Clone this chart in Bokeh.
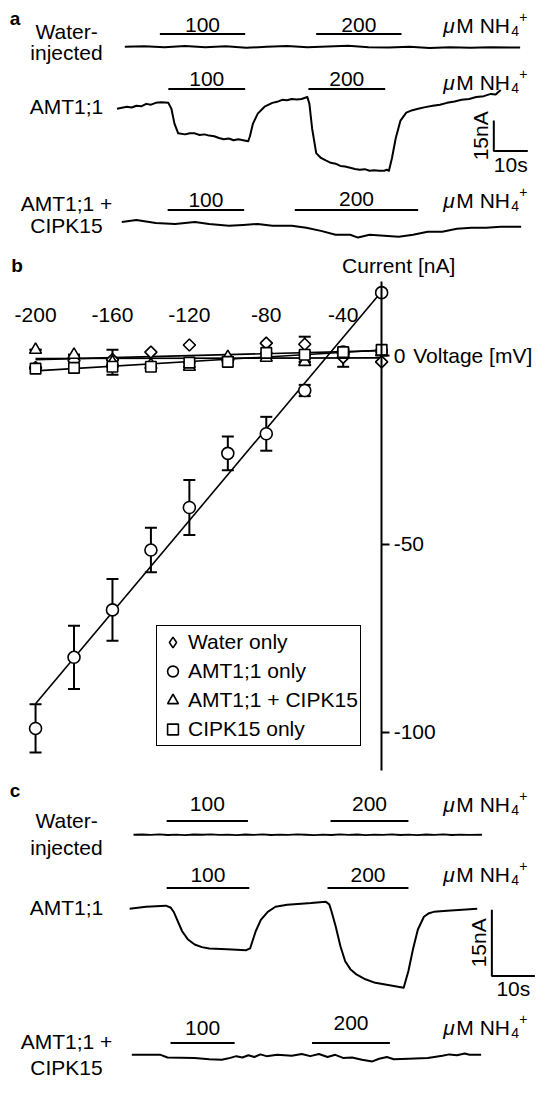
import numpy as np
from bokeh.plotting import figure
from bokeh.models import (Range1d, Label, LinearAxis, FixedTicker, Whisker,
                          TeeHead, ColumnDataSource, Legend, LegendItem)
from bokeh.layouts import column
from bokeh.embed import file_html
from bokeh.resources import INLINE

FONT = "Liberation Sans"
FS = "21px"
SX = 537 / 553
SY = 1079 / 1095

# ------------------------------------------------------------------ data
conc_labels = ["100", "200"]
unit_parts = ["\u03bc", "M NH", "4", "+"]
scale_bar_nA = 15
scale_bar_s = 10
scale_bar_labels = ["15nA", "10s"]

# panel a : NH4+ application windows (s)
a_water_windows = [(12.6, 37.7), (58.6, 83.7)]
a_amt_windows = [(15.1, 37.7), (56.3, 78.9)]
a_cipk_windows = [(14.9, 37.4), (52.3, 88.6)]

# panel a : current traces (time s, current nA relative to start)
a_water = [(2.3, 0), (8, 0.2), (14, -0.3), (20, 0.4), (26, -0.2), (32, 0.3),
           (38, -0.5), (44, 0), (50, 0.4), (56, -0.3), (62, 0.1), (68, 0.5),
           (74, -0.3), (80, -0.4), (86, 0), (92, -0.6), (98, -0.2),
           (104, -0.5), (110, -0.3), (118.6, -0.4)]
a_amt = [(0, 0), (2.9, 1.0), (4.3, 0.6), (5.7, 1.5), (7.1, 1.2), (8.6, 2.4),
         (10.0, 2.0), (11.4, 2.9), (13.0, 3.2), (15.1, 2.9), (16.0, 0),
         (16.9, -7.3), (18.0, -12.1), (20.0, -12.6), (21.4, -12.0),
         (22.9, -12.1), (24.3, -12.9), (25.7, -12.6), (27.1, -13.2),
         (28.6, -13.5), (30.0, -14.4), (31.4, -15.0), (32.9, -14.6),
         (34.3, -15.5), (35.7, -15.0), (37.1, -15.5), (38.6, -16.0),
         (39.1, -13.5), (40.0, -7.3), (41.4, -2.4), (43.4, 1.0), (45.7, 2.9),
         (47.1, 3.4), (48.6, 4.4), (50.0, 4.2), (51.4, 4.8), (52.9, 4.5),
         (54.3, 4.8), (56.0, 5.8), (56.6, 2.4), (57.4, -9.7), (58.6, -21.8),
         (60.0, -24.2), (61.4, -25.4), (62.9, -26.6), (64.3, -27.0),
         (65.7, -28.1), (67.1, -28.4), (68.6, -29.0), (70.0, -29.6),
         (71.4, -30.0), (72.9, -29.7), (74.3, -30.5), (75.7, -30.2),
         (77.1, -30.5), (78.6, -30.5), (79.4, -30.0), (80.0, -30.5),
         (80.9, -24.2), (82.0, -14.5), (83.4, -5.8), (85.1, -1.9),
         (86.9, -0.7), (88.6, 0), (90.7, 0.8), (92.9, 1.5), (95.0, 2.0),
         (97.1, 2.9), (99.3, 3.6), (101.4, 4.4), (103.6, 4.8), (105.7, 5.8),
         (107.9, 6.2), (110.0, 7.3), (111.4, 7.0), (112.9, 9.2)]
a_cipk = [(1.4, 0), (5.7, 1.0), (11.4, -0.5), (17.1, -1.0), (22.9, 0),
          (27.1, -1.0), (32.9, -1.9), (37.1, -1.5), (41.4, -1.0),
          (45.7, -1.9), (51.4, -1.9), (55.7, -2.9), (60.0, -4.4),
          (64.3, -6.3), (68.6, -6.3), (70.9, -7.7), (74.3, -6.3),
          (78.6, -6.8), (82.9, -7.3), (87.1, -6.3), (91.4, -4.8),
          (95.7, -4.8), (100.0, -3.4), (104.3, -2.9), (108.6, -2.9),
          (112.9, -2.4), (118.9, -2.4)]

# panel b : I-V data (mV, nA)
voltage = [-200, -180, -160, -140, -120, -100, -80, -60, -40, -20]
water_only = [-3.1, -1.3, -1.0, 1.0, 2.9, -1.0, 3.4, 3.1, -0.4, -1.6]
water_only_err = [0, 0, 0, 0, 0, 0, 0, 2.0, 2.5, 0]
amt_only = [-99.0, -80.1, -67.5, -51.6, -40.3, -25.9, -20.7, -9.2, 1.0, 16.8]
amt_only_err = [6.4, 8.4, 8.2, 5.9, 7.3, 4.5, 4.5, 1.5, 0.8, 0.5]
amt_cipk = [1.6, 0.3, -1.7, -2.4, -2.9, -0.3, -0.5, -1.6, 0.3, 1.0]
amt_cipk_err = [0, 0, 3.3, 0, 0, 0, 0, 0, 0, 0]
cipk_only = [-3.4, -3.2, -2.9, -2.9, -1.8, -1.6, 0.8, 0.3, 1.0, 1.6]
cipk_only_err = [0, 0, 0, 0, 0, 0, 0, 0, 0, 0]
series_names = ["Water only", "AMT1;1 only", "AMT1;1 + CIPK15", "CIPK15 only"]
v_ticks = [-200, -160, -120, -80, -40]
i_ticks = [-100, -50, 0]

# panel c : NH4+ application windows (s)
c_water_windows = [(8.6, 27.5), (46.7, 64.8)]
c_amt_windows = [(8.6, 27.8), (46.0, 64.8)]
c_cipk_windows = [(9.5, 24.4), (42.4, 60.5)]

# panel c : current traces (time s, current nA relative to start)
c_water = [(0.9, 0), (2.9, 0.06), (4.9, -0.04), (6.9, 0.08), (8.9, -0.06),
           (10.9, 0.04), (12.9, -0.08), (14.9, 0.06), (16.9, 0), (18.9, 0.08),
           (20.9, -0.04), (22.9, 0.04), (24.9, -0.08), (26.9, 0.06),
           (28.9, -0.02), (30.9, 0.08), (32.9, -0.06), (34.9, 0.04),
           (36.9, -0.04), (38.9, 0.08), (40.9, 0), (42.9, -0.08), (44.9, 0.04),
           (46.9, -0.06), (48.9, 0.08), (50.9, -0.04), (52.9, 0.06),
           (54.9, -0.08), (56.9, 0.04), (58.9, -0.04), (60.9, 0.08),
           (62.9, -0.06), (64.9, 0.02), (66.9, -0.08), (68.9, 0.06),
           (70.9, -0.04), (72.9, 0.08), (74.9, -0.06), (76.9, 0.04),
           (78.9, -0.04), (81.9, 0)]
c_amt = [(0, 0), (3.8, 0.45), (8.4, 0.7), (9.5, 0.3), (10.3, -0.8),
         (11.0, -2.4), (12.2, -5.1), (13.5, -6.9), (15.1, -8.1),
         (16.8, -8.7), (18.5, -9.0), (22.6, -9.2), (27.1, -9.4),
         (28.0, -9.0), (28.6, -7.2), (29.3, -5.1), (30.5, -2.5),
         (32.1, -0.7), (33.9, 0.45), (36.6, 0.9), (39.1, 1.1), (42.2, 1.3),
         (45.6, 1.6), (46.4, 1.0), (46.9, -0.5), (47.9, -4.0), (49.0, -8.5),
         (50.1, -11.9), (51.3, -13.7), (52.6, -14.8), (54.8, -16.0),
         (57.1, -16.8), (61.4, -17.5), (63.7, -17.9), (64.8, -14.1),
         (65.9, -9.0), (67.0, -4.7), (68.4, -1.8), (69.6, -1.0),
         (70.7, -0.7), (73.8, -0.45), (80.8, 0)]
c_cipk = [(0.5, 0), (7.2, 0), (8.8, -0.6), (15.1, -0.7), (18.5, -1.0),
          (21.4, -1.1), (23.0, -0.8), (24.8, -0.3), (26.2, -0.6),
          (27.6, -0.1), (29.0, -0.5), (30.4, 0.1), (31.8, -0.3), (34.3, 0),
          (37.7, -0.2), (40.0, 0.2), (42.0, -0.3), (44.0, 0.2), (46.0, -0.5),
          (47.8, 0), (49.6, -0.7), (51.7, -0.6), (54.0, -1.1), (56.4, -1.5),
          (58.0, -0.9), (59.8, -0.5), (61.4, -1.0), (64.8, -0.9),
          (69.3, -0.7), (72.7, -0.2), (74.3, 0.1), (76.1, -0.1), (77.9, 0.3),
          (79.0, 0), (81.7, 0)]


# ------------------------------------------------------------------ helpers
def new_fig(h, xr, yr):
    p = figure(width=537, height=h, x_range=Range1d(*xr), y_range=Range1d(*yr),
               x_axis_type=None, y_axis_type=None, toolbar_location=None,
               output_backend="svg", min_border=0, outline_line_color=None,
               background_fill_color="white", border_fill_color="white")
    p.grid.visible = False
    return p


def lab(p, x, y, text, size=FS, align="center", baseline="middle",
        style="normal", angle=0, xo=0, yo=0):
    p.add_layout(Label(x=x, y=y, text=text, text_font=FONT,
                       text_font_size=size, text_align=align,
                       text_baseline=baseline, text_font_style=style,
                       angle=angle, angle_units="deg", x_offset=xo,
                       y_offset=yo, text_color="black"))


def unit_label(p, x, y):
    lab(p, x, y, unit_parts[0], align="left", style="italic")
    lab(p, x, y, unit_parts[1], align="left", xo=13)
    lab(p, x, y, unit_parts[2], size="14px", align="left", xo=68, yo=-6)
    lab(p, x, y, unit_parts[3], size="14px", align="left", xo=76, yo=8)


def trace_panel(h, ref_top, ref_bot, x0_ref, px_per_s, px_per_nA, rows,
                letter, letter_y, sb_corner):
    def tx(xr):
        return (xr - x0_ref) / px_per_s

    def iy(yr):
        return -(yr - ref_top) / px_per_nA

    p = new_fig(h, (tx(0), tx(553)), (iy(ref_bot), iy(ref_top)))
    lab(p, tx(15), iy(letter_y), letter, size="19px", style="bold")
    for r in rows:
        for txt, ly in zip(r["names"], r["name_y"]):
            lab(p, tx(68), iy(ly), txt)
        t = [q[0] for q in r["trace"]]
        cur = [iy(r["trace_y"]) + q[1] for q in r["trace"]]
        p.line(t, cur, line_color="black", line_width=r.get("lw", 2),
               line_join="round")
        w = r["windows"]
        by = iy(r["bar_y"])
        p.segment(x0=[a for a, b in w], x1=[b for a, b in w],
                  y0=[by] * len(w), y1=[by] * len(w), line_color="black",
                  line_width=2)
        for (a, b), txt, ly in zip(w, conc_labels, r["text_y"]):
            lab(p, (a + b) / 2, iy(ly), txt)
        unit_label(p, tx(456), iy(r["unit_y"]))
    # scale bar
    cx, cy = tx(sb_corner[0]), iy(sb_corner[1])
    p.line([cx, cx, cx + scale_bar_s], [cy + scale_bar_nA, cy, cy],
           line_color="black", line_width=2)
    lab(p, cx, cy + scale_bar_nA / 2, scale_bar_labels[0], angle=90, xo=-13)
    lab(p, cx + scale_bar_s / 2, cy, scale_bar_labels[1], yo=-13)
    return p


# ------------------------------------------------------------------ panel a
h_a = round(252 * SY)
rows_a = [
    dict(names=["Water-", "injected"], name_y=[32, 53], trace=a_water,
         trace_y=47, windows=a_water_windows, bar_y=34, text_y=[25, 25],
         unit_y=25),
    dict(names=["AMT1;1"], name_y=[108], trace=a_amt, trace_y=110,
         windows=a_amt_windows, bar_y=90, text_y=[80, 80], unit_y=83),
    dict(names=["AMT1;1 +", "CIPK15"], name_y=[206, 229], trace=a_cipk,
         trace_y=225, windows=a_cipk_windows, bar_y=213, text_y=[203, 202],
         unit_y=203),
]
pa = trace_panel(h_a, 0, 252, 120, 3.5, 31 / 15, rows_a, "a", 18, (508, 153))

# ------------------------------------------------------------------ panel b
h_b = round(538 * SY)
B_TOP, B_BOT = 252, 790


def vx(xr):
    return -20 + (xr - 392.5) / 1.98


def cy_(yr):
    return (361 - yr) / 3.82


pb = new_fig(h_b, (vx(0), vx(553)), (cy_(B_BOT), cy_(B_TOP)))
xa = LinearAxis(fixed_location=0, ticker=FixedTicker(ticks=v_ticks),
                major_label_overrides={v: str(v) for v in v_ticks},
                axis_line_color=None, major_tick_line_color=None,
                minor_tick_line_color=None, major_label_standoff=28,
                major_label_text_font=FONT, major_label_text_font_size=FS,
                major_label_text_color="black")
pb.add_layout(xa, "above")
ya = LinearAxis(fixed_location=-20, ticker=FixedTicker(ticks=i_ticks),
                major_label_overrides={v: str(v) for v in i_ticks},
                bounds=(cy_(782), cy_(285)), axis_line_width=2,
                axis_line_color="black", major_tick_line_width=2,
                major_tick_out=8, major_tick_in=0,
                minor_tick_line_color=None, major_label_standoff=4,
                major_label_text_font=FONT, major_label_text_font_size=FS,
                major_label_text_color="black")
pb.add_layout(ya, "right")

# (values, errors, plot marker, plot size, plot angle, legend marker)
series = [
    (water_only, water_only_err, "square", 8.5, np.pi / 4, "diamond"),
    (amt_only, amt_only_err, "circle", 12, 0, "circle"),
    (amt_cipk, amt_cipk_err, "triangle", 12, 0, "triangle"),
    (cipk_only, cipk_only_err, "square", 10.5, 0, "square"),
]
vfit = [min(voltage), max(voltage)]
for vals, *_ in series:
    k, b0 = np.polyfit(voltage, vals, 1)
    pb.line(vfit, [k * v + b0 for v in vfit], line_color="black",
            line_width=1.6)
for vals, err, *_ in series:
    src = ColumnDataSource(dict(v=voltage,
                                lo=[a - e for a, e in zip(vals, err)],
                                hi=[a + e for a, e in zip(vals, err)]))
    pb.add_layout(Whisker(source=src, base="v", lower="lo", upper="hi",
                          line_color="black", line_width=2,
                          upper_head=TeeHead(size=12, line_width=2),
                          lower_head=TeeHead(size=12, line_width=2)))
items = []
for (vals, err, mk, sz, ang, lmk), name in zip(series, series_names):
    pb.scatter(voltage, vals, marker=mk, size=sz, angle=ang,
               fill_color="white", line_color="black", line_width=1.6)
    # legend-only glyph (not drawn in the plot area: NaN position)
    lr = pb.scatter([float("nan")], [float("nan")], marker=lmk, size=sz,
                    fill_color="white", line_color="black", line_width=1.6)
    items.append(LegendItem(label=name, renderers=[lr]))

lg = Legend(items=items, location=(156, 32), label_text_font=FONT,
            label_text_font_size=FS, label_text_color="black",
            border_line_color="black", border_line_width=1.5,
            border_line_alpha=1.0, background_fill_color="white",
            background_fill_alpha=1.0, glyph_width=27, glyph_height=28,
            label_height=28, label_standoff=2, spacing=1, padding=2,
            margin=0)
pb.add_layout(lg)

lab(pb, vx(17), cy_(269), "b", size="19px", style="bold")
lab(pb, vx(410), cy_(269), "Current [nA]")
lab(pb, vx(425), 0, "Voltage [mV]", align="left")

# ------------------------------------------------------------------ panel c
h_c = 1079 - h_a - h_b
rows_c = [
    dict(names=["Water-", "injected"], name_y=[833, 860], trace=c_water,
         trace_y=847, windows=c_water_windows, bar_y=833, text_y=[816, 816],
         unit_y=816, lw=1.8),
    dict(names=["AMT1;1"], name_y=[921], trace=c_amt, trace_y=922,
         windows=c_amt_windows, bar_y=901, text_y=[888, 888], unit_y=887),
    dict(names=["AMT1;1 +", "CIPK15"], name_y=[1057, 1083], trace=c_cipk,
         trace_y=1070, windows=c_cipk_windows, bar_y=1058,
         text_y=[1043, 1038], unit_y=1042),
]
pc = trace_panel(h_c, 790, 1095, 133, 4.43, 67 / 15, rows_c, "c", 802,
                 (506, 990))

layout = column(pa, pb, pc, spacing=0)
open("out.html", "w").write(file_html(layout, INLINE))
